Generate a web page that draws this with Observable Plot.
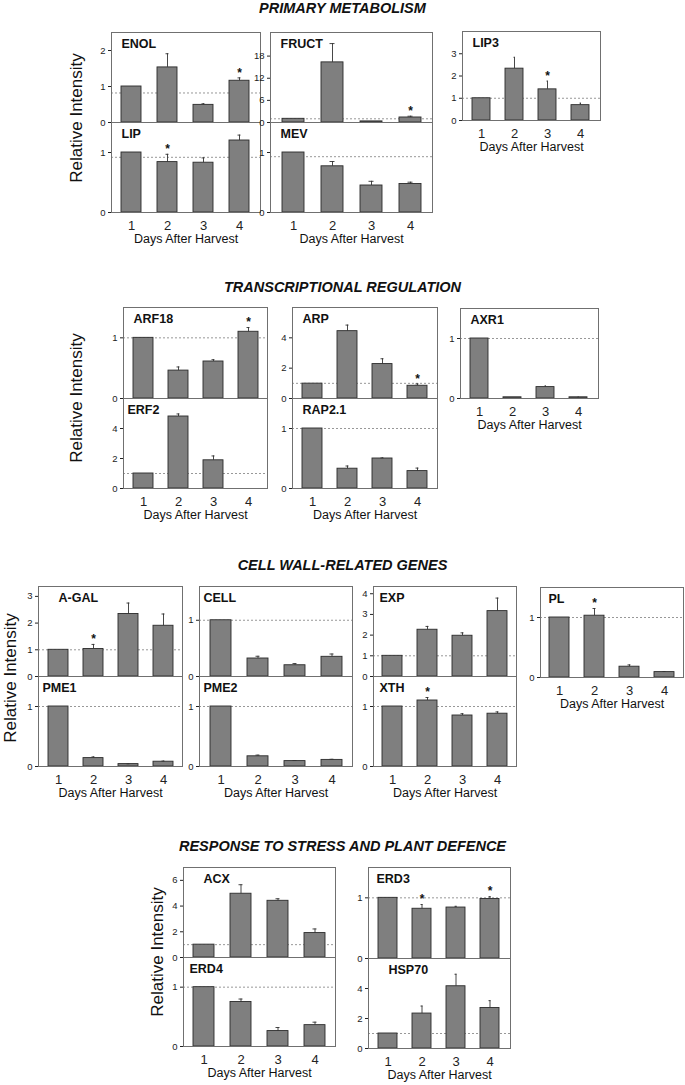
<!DOCTYPE html>
<html><head><meta charset="utf-8">
<script src="https://cdn.jsdelivr.net/npm/d3@7"></script>
<script src="https://cdn.jsdelivr.net/npm/@observablehq/plot@0.6"></script>
<style>
body{margin:0;background:#fff;}
#chart{position:relative;width:685px;height:1085px;overflow:hidden;font-family:"Liberation Sans",Arial,Helvetica,sans-serif;color:#111;}
.sec{position:absolute;left:0;width:685px;text-align:center;font-weight:bold;font-style:italic;font-size:14.5px;line-height:1;white-space:nowrap;}
.ri{position:absolute;font-size:17px;line-height:1;white-space:nowrap;transform:translate(-50%,-50%) rotate(-90deg);}
.p{position:absolute;}
</style></head><body><div id="chart"></div><script>
// ---- data ----
const days = [1, 2, 3, 4];
const sectionTitles = ["PRIMARY METABOLISM", "TRANSCRIPTIONAL REGULATION", "CELL WALL-RELATED GENES", "RESPONSE TO STRESS AND PLANT DEFENCE"];
const yLabel = "Relative Intensity";
const xLabel = "Days After Harvest";

const ENOL_mean = [1.00, 1.53, 0.49, 1.16];   const ENOL_err = [0, 0.38, 0.03, 0.08];   const ENOL_sig = [4];
const LIP_mean = [1.00, 0.84, 0.83, 1.20];    const LIP_err = [0, 0.13, 0.08, 0.09];    const LIP_sig = [2];
const FRUCT_mean = [1.00, 16.3, 0.30, 1.36];  const FRUCT_err = [0, 5.1, 0, 0.34];      const FRUCT_sig = [4];
const MEV_mean = [1.00, 0.77, 0.45, 0.475];   const MEV_err = [0, 0.08, 0.07, 0.03];    const MEV_sig = [];
const LIP3_mean = [1.00, 2.33, 1.40, 0.69];   const LIP3_err = [0, 0.51, 0.37, 0.09];   const LIP3_sig = [3];

const ARF18_mean = [1.00, 0.46, 0.61, 1.10];  const ARF18_err = [0, 0.06, 0.03, 0.07];  const ARF18_sig = [4];
const ERF2_mean = [1.00, 4.80, 1.88, 0];      const ERF2_err = [0, 0.17, 0.29, 0];      const ERF2_sig = [];
const ARP_mean = [0.98, 4.44, 2.27, 0.84];    const ARP_err = [0, 0.40, 0.35, 0.12];    const ARP_sig = [4];
const RAP21_mean = [1.00, 0.33, 0.50, 0.29];  const RAP21_err = [0, 0.045, 0.01, 0.05]; const RAP21_sig = [];
const AXR1_mean = [1.00, 0.02, 0.19, 0.02];   const AXR1_err = [0, 0, 0.02, 0.005];     const AXR1_sig = [];

const AGAL_mean = [1.00, 1.03, 2.34, 1.90];   const AGAL_err = [0, 0.17, 0.41, 0.44];   const AGAL_sig = [2];
const PME1_mean = [1.00, 0.14, 0.04, 0.08];   const PME1_err = [0, 0.02, 0.005, 0.01];  const PME1_sig = [];
const CELL_mean = [1.00, 0.32, 0.20, 0.35];   const CELL_err = [0, 0.04, 0.03, 0.05];   const CELL_sig = [];
const PME2_mean = [1.00, 0.17, 0.09, 0.11];   const PME2_err = [0, 0.02, 0.01, 0.01];   const PME2_sig = [];
const EXP_mean = [1.00, 2.26, 1.97, 3.16];    const EXP_err = [0, 0.16, 0.14, 0.63];    const EXP_sig = [];
const XTH_mean = [1.00, 1.10, 0.85, 0.88];    const XTH_err = [0, 0.05, 0.03, 0.03];    const XTH_sig = [2];
const PL_mean = [1.00, 1.03, 0.18, 0.09];     const PL_err = [0, 0.12, 0.03, 0.01];     const PL_sig = [2];

const ACX_mean = [1.00, 4.96, 4.41, 1.90];    const ACX_err = [0, 0.70, 0.16, 0.32];    const ACX_sig = [];
const ERD4_mean = [1.00, 0.75, 0.26, 0.36];   const ERD4_err = [0, 0.05, 0.06, 0.05];   const ERD4_sig = [];
const ERD3_mean = [1.00, 0.82, 0.84, 0.98];   const ERD3_err = [0, 0.07, 0.02, 0.04];   const ERD3_sig = [2, 4];
const HSP70_mean = [1.00, 2.33, 4.15, 2.70];  const HSP70_err = [0, 0.50, 0.80, 0.49];  const HSP70_sig = [];

// y-axis tick labels per panel
const ticks01 = [0, 1], ticks012 = [0, 1, 2], ticks0123 = [0, 1, 2, 3], ticks01234 = [0, 1, 2, 3, 4];
const ticks024 = [0, 2, 4], ticks0246 = [0, 2, 4, 6], ticksFRUCT = [0, 6, 12, 18];

// ---- layout ----
const panels = [
  {name:"ENOL", mean:ENOL_mean, err:ENOL_err, sig:ENOL_sig, ymax:2.5, ticks:ticks012, ref:0.82, left:111, top:32, w:149, h:90, xaxis:false},
  {name:"LIP", mean:LIP_mean, err:LIP_err, sig:LIP_sig, ymax:1.5, ticks:ticks01, ref:0.92, left:111, top:122, w:149, h:90, xaxis:true},
  {name:"FRUCT", mean:FRUCT_mean, err:FRUCT_err, sig:FRUCT_sig, ymax:24.4, ticks:ticksFRUCT, ref:1, left:270, top:32, w:162, h:90, xaxis:false},
  {name:"MEV", mean:MEV_mean, err:MEV_err, sig:MEV_sig, ymax:1.5, ticks:ticks01, ref:0.93, left:270, top:122, w:162, h:90, xaxis:true},
  {name:"LIP3", mean:LIP3_mean, err:LIP3_err, sig:LIP3_sig, ymax:4, ticks:ticks0123, ref:1, left:462, top:31, w:138, h:89, xaxis:true},

  {name:"ARF18", mean:ARF18_mean, err:ARF18_err, sig:ARF18_sig, ymax:1.5, ticks:ticks01, ref:1, left:123, top:307, w:144, h:91, xaxis:false},
  {name:"ERF2", mean:ERF2_mean, err:ERF2_err, sig:ERF2_sig, ymax:6, ticks:ticks024, ref:1, left:123, top:398, w:144, h:90, xaxis:true, dx:4},
  {name:"ARP", mean:ARP_mean, err:ARP_err, sig:ARP_sig, ymax:6, ticks:ticks024, ref:1, left:292, top:307, w:145, h:91, xaxis:false},
  {name:"RAP2.1", mean:RAP21_mean, err:RAP21_err, sig:RAP21_sig, ymax:1.5, ticks:ticks01, ref:1, left:292, top:398, w:145, h:90, xaxis:true},
  {name:"AXR1", mean:AXR1_mean, err:AXR1_err, sig:AXR1_sig, ymax:1.5, ticks:ticks01, ref:1, left:460, top:308, w:138, h:90, xaxis:true},

  {name:"A-GAL", mean:AGAL_mean, err:AGAL_err, sig:AGAL_sig, ymax:3.37, ticks:ticks0123, ref:1, left:38, top:586, w:144, h:90, xaxis:false, dx:20},
  {name:"PME1", mean:PME1_mean, err:PME1_err, sig:PME1_sig, ymax:1.5, ticks:ticks01, ref:1, left:38, top:676, w:144, h:90, xaxis:true, dx:4},
  {name:"CELL", mean:CELL_mean, err:CELL_err, sig:CELL_sig, ymax:1.6, ticks:ticks01, ref:1, left:199, top:586, w:153, h:90, xaxis:false, dx:4},
  {name:"PME2", mean:PME2_mean, err:PME2_err, sig:PME2_sig, ymax:1.5, ticks:ticks01, ref:1, left:199, top:676, w:153, h:90, xaxis:true, dx:4},
  {name:"EXP", mean:EXP_mean, err:EXP_err, sig:EXP_sig, ymax:4.35, ticks:ticks01234, ref:1, left:373, top:586, w:143, h:90, xaxis:false, dx:6},
  {name:"XTH", mean:XTH_mean, err:XTH_err, sig:XTH_sig, ymax:1.5, ticks:ticks01, ref:1, left:373, top:676, w:143, h:90, xaxis:true, dx:6},
  {name:"PL", mean:PL_mean, err:PL_err, sig:PL_sig, ymax:1.5, ticks:ticks01, ref:1, left:540, top:587, w:143, h:90, xaxis:true, dx:8},

  {name:"ACX", mean:ACX_mean, err:ACX_err, sig:ACX_sig, ymax:7, ticks:ticks0246, ref:1, left:183, top:867, w:152, h:90, xaxis:false, dx:20},
  {name:"ERD4", mean:ERD4_mean, err:ERD4_err, sig:ERD4_sig, ymax:1.5, ticks:ticks01, ref:1, left:183, top:957, w:152, h:89, xaxis:true, dx:6},
  {name:"ERD3", mean:ERD3_mean, err:ERD3_err, sig:ERD3_sig, ymax:1.5, ticks:ticks01, ref:1, left:368, top:867, w:142, h:91, xaxis:false, dx:8},
  {name:"HSP70", mean:HSP70_mean, err:HSP70_err, sig:HSP70_sig, ymax:6, ticks:ticks024, ref:1, left:368, top:958, w:142, h:90, xaxis:true, dx:20}
];
const titleTops = [1, 280, 558, 839];
const yLabelCenters = [[76, 118], [76, 398], [10, 678], [157, 952]];

// ---- draw ----
const chart = document.getElementById("chart");
const FONT = "Liberation Sans, Arial, Helvetica, sans-serif";

sectionTitles.forEach((t, i) => {
  const d = document.createElement("div");
  d.className = "sec"; d.textContent = t; d.style.top = titleTops[i] + "px";
  chart.appendChild(d);
});
yLabelCenters.forEach(([x, y]) => {
  const d = document.createElement("div");
  d.className = "ri"; d.textContent = yLabel; d.style.left = x + "px"; d.style.top = y + "px";
  chart.appendChild(d);
});

function drawPanel(p) {
  const ML = 26, MR = 3, MT = 3, MB = p.xaxis ? 44 : 3;
  const rows = days.map((d, i) => ({day: d, mean: p.mean[i], err: p.err[i], top: p.mean[i] + p.err[i]}));
  const withErr = rows.filter(r => r.err > 0);
  const starred = rows.filter(r => p.sig.includes(r.day));
  const marks = [
    Plot.ruleY([p.ref], {stroke: "#8c8c8c", strokeDasharray: "2,2", strokeWidth: 0.9}),
    Plot.barY(rows, {x: "day", y: "mean", fill: "#7f7f7f", stroke: "#2b2b2b", strokeWidth: 0.9}),
    Plot.ruleX(withErr, {x: "day", y1: "mean", y2: "top", stroke: "#333", strokeWidth: 0.9}),
    Plot.tickY(withErr, {x: "day", y: "top", stroke: "#333", strokeWidth: 0.9, insetLeft: 8.5, insetRight: 8.5}),
    Plot.text(starred, {x: "day", y: "top", text: () => "*", dy: -5, fontSize: 12, fontWeight: "bold", fill: "#111"}),
    Plot.frame({stroke: "#707070", strokeWidth: 1}),
    Plot.axisY({ticks: p.ticks, tickSize: 3, tickPadding: 3, fontSize: 9.5, label: null, tickFormat: d => String(d)}),
    Plot.text([p.name], {text: d => d, frameAnchor: "top-left", dx: p.dx ?? 10, dy: 7, lineAnchor: "top", textAnchor: "start", fontWeight: "bold", fontSize: 12.5, fill: "#111"})
  ];
  if (p.xaxis) {
    marks.push(Plot.axisX({tickSize: 0, tickPadding: 8, fontSize: 13, label: null}));
    marks.push(Plot.text([xLabel], {text: d => d, frameAnchor: "bottom", dy: 30, fontSize: 12.5, fill: "#111"}));
  }
  const svg = Plot.plot({
    width: p.w + ML + MR, height: p.h + MT + MB,
    marginLeft: ML, marginRight: MR, marginTop: MT, marginBottom: MB,
    x: {domain: days, paddingInner: 0.44, paddingOuter: 0.25, axis: p.xaxis ? undefined : null},
    y: {domain: [0, p.ymax]},
    style: {fontFamily: FONT, color: "#222", background: "transparent", overflow: "visible"},
    marks
  });
  svg.classList.add("p");
  svg.style.position = "absolute";
  svg.style.left = (p.left - ML) + "px";
  svg.style.top = (p.top - MT) + "px";
  chart.appendChild(svg);
}
panels.forEach(drawPanel);
</script></body></html>
